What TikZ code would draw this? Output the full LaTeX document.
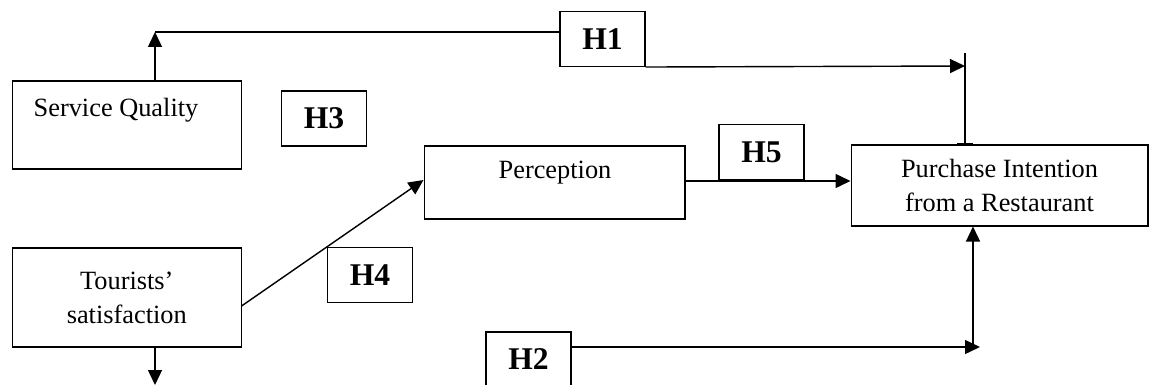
\documentclass[tikz,border=0pt]{standalone}
\usepackage{fontspec}
\setmainfont{Liberation Serif}
\usetikzlibrary{arrows.meta}

\begin{document}
\begin{tikzpicture}[x=0.02cm, y=-0.02cm,
  box/.style={draw, line width=0.6pt, inner sep=0pt, align=center, font=\fontsize{15}{19.3}\selectfont},
  boxtext/.style={inner sep=0pt, font=\fontsize{15}{19.3}\selectfont},
  hyp/.style={draw, line width=0.6pt, minimum width=1.7cm, minimum height=1.1cm, inner sep=0pt, font=\fontsize{18}{21}\selectfont\bfseries},
  arr/.style={line width=0.8pt, -{Triangle[length=0.3cm, width=0.28cm]}}]

\useasboundingbox (0,0) rectangle (1150,385);

% Constructs
\node[box, minimum width=4.57cm, minimum height=1.76cm] (sq) at (126.8,125) {};
\node[boxtext] (sqtext) at (116,110) {Service Quality};
\node[box, minimum width=4.57cm, minimum height=1.98cm] (ts) at (126.8,297.5) {Tourists'\\satisfaction};
\node[box, minimum width=5.22cm, minimum height=1.46cm] (per) at (554.5,182.5) {};
\node[boxtext] (pertext) at (555,173) {Perception};
\node[box, minimum width=5.94cm, minimum height=1.62cm] (pi) at (999.5,185.5) {Purchase Intention\\from a Restaurant};

% Hypotheses
\node[hyp] (h1) at (602.5,39) {H1};
\node[hyp] (h3) at (324,118.5) {H3};
\node[hyp] (h5) at (761.5,152) {H5};
\node[hyp] (h2) at (528.5,359.5) {H2};

% H1 path
\coordinate (squp) at (155,32);
\coordinate (h1end) at (965,66);
\draw[arr] (squp |- sq.north) -- (squp);
\draw[line width=0.6pt] (squp) -- (squp -| h1.west);
\draw[arr] (h1.south east) -- (h1end);
\draw[line width=0.8pt, -{Bar[width=0.32cm]}] ([yshift=0.26cm]h1end) -- (h1end |- pi.north);

% H5 path
\draw[arr] ([yshift=0.03cm]per.east) -- ([yshift=0.03cm]per.east -| pi.west);

% H4 path
\draw[arr] ([yshift=-0.17cm]ts.east) -- coordinate[pos=0.47] (h4c) ([yshift=0.05cm]per.west);
\node[hyp, anchor=north west] (h4) at (h4c) {H4};

% H2 path
\coordinate (tsdown) at (155,385);
\coordinate (h2end) at (973,347);
\draw[arr] (tsdown |- ts.south) -- (tsdown);
\draw[arr] (h2end -| h2.east) -- ([xshift=0.14cm]h2end);
\draw[arr] (h2end) -- (h2end |- pi.south);

\end{tikzpicture}
\end{document}
